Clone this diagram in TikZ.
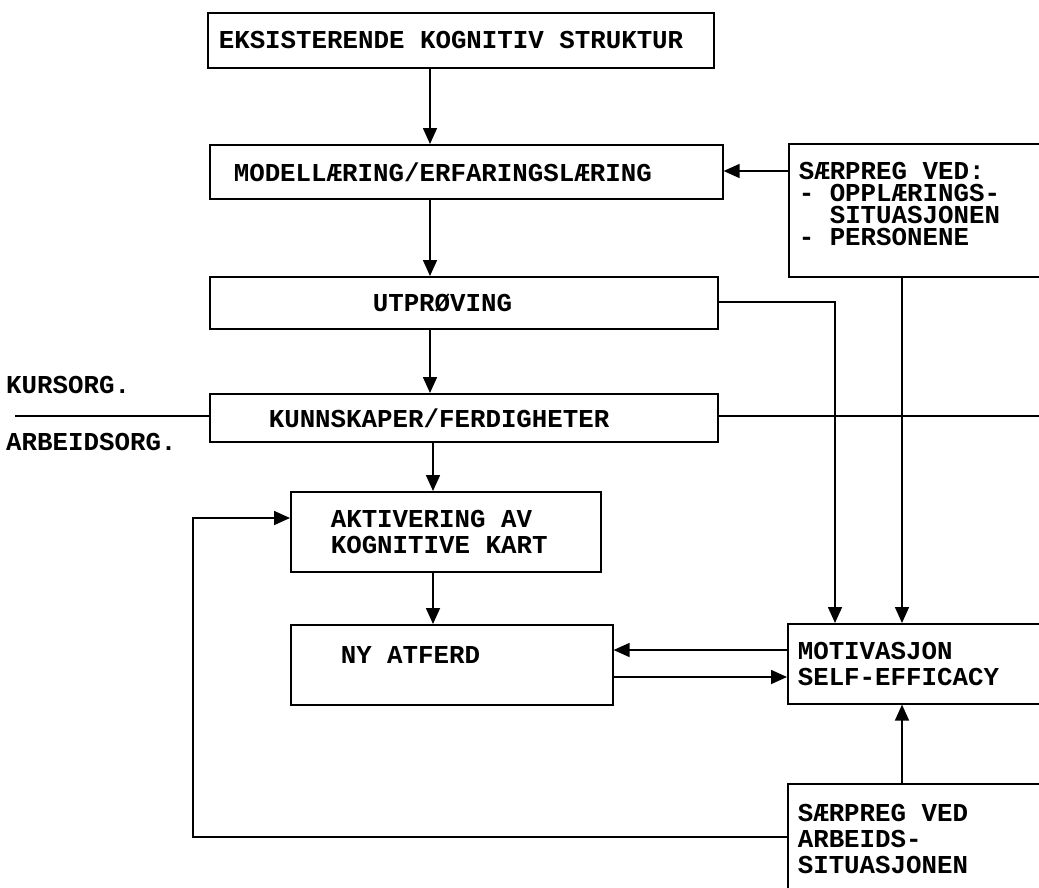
\documentclass[tikz,border=0pt]{standalone}
\usepackage{fontspec}
\newfontfamily\tw{Liberation Mono}
\usetikzlibrary{arrows.meta}
\begin{document}
\begin{tikzpicture}[x=1pt,y=-1pt,
  box/.style={draw, line width=1.6pt, anchor=north west, align=left,
    font=\tw\bfseries\fontsize{25.8}{26}\selectfont, inner ysep=0pt,
    execute at begin node={\spaceskip=0pt\xspaceskip=0pt}},
  tight/.style={font=\tw\bfseries\fontsize{25.8}{22}\selectfont},
  lbl/.style={inner sep=0pt, anchor=west, font=\tw\bfseries\fontsize{25.8}{26}\selectfont},
  arr/.style={line width=1.6pt, -{Triangle[length=16pt,width=14pt]}},
  ln/.style={line width=1.6pt}]
\useasboundingbox (0,0) rectangle (1039,887);
\clip (0,0) rectangle (1039,887);

% main column
\node[box, text width=484pt, inner xsep=11pt, minimum height=55pt] (b1) at (207,12)
  {EKSISTERENDE KOGNITIV STRUKTUR};
\node[box, text width=465pt, inner xsep=24pt, minimum height=54pt] (b2) at (209,144)
  {MODELLÆRING/ERFARINGSLÆRING};
\node[box, text width=182pt, inner xsep=163pt, minimum height=52pt] (b3) at (209,276)
  {UTPRØVING};
\node[box, text width=390pt, inner xsep=59pt, minimum height=48pt] (b4) at (209,393)
  {KUNNSKAPER/FERDIGHETER};
\node[box, text width=230pt, inner xsep=40pt, minimum height=80pt] (b5) at (290,491)
  {AKTIVERING AV\\KOGNITIVE KART};
\node[box, text width=222pt, inner xsep=50pt, minimum height=80pt, text depth=20pt] (b6) at (290,624)
  {NY ATFERD};

% right column (boxes run past the right edge)
\node[box, tight, text width=280pt, inner xsep=10pt, minimum height=133pt, text depth=78pt] (r1) at (788,143)
  {SÆRPREG VED:\\- OPPLÆRINGS-\\\ \ SITUASJONEN\\- PERSONENE};
\node[box, text width=280pt, inner xsep=10pt, minimum height=80pt] (m) at (787,623)
  {MOTIVASJON\\SELF-EFFICACY};
\node[box, text width=280pt, inner xsep=10pt, minimum height=110pt] (r2) at (787,783)
  {SÆRPREG VED\\ARBEIDS-\\SITUASJONEN};

% side labels
\node[lbl] (kurs) at (6,385) {KURSORG.};
\node[lbl] (arb) at (6,442) {ARBEIDSORG.};

% helper coordinates
\coordinate (xa) at (430,0);
\coordinate (xd) at (433,0);
\coordinate (xb) at (835,0);
\coordinate (xc) at (902,0);
\coordinate (xe) at (193,0);
\coordinate (ya) at (0,171);
\coordinate (yb) at (0,302);
\coordinate (yc) at (0,650);
\coordinate (yd) at (0,677);
\coordinate (ye) at (0,837);
\coordinate (yf) at (0,518);
\coordinate (lft) at (15,416);
\coordinate (rgt) at (1060,416);

% connectors
\draw[arr] (b1.south -| xa) -- (b2.north -| xa);
\draw[arr] (r1.west |- ya) -- (b2.east |- ya);
\draw[arr] (b2.south -| xa) -- (b3.north -| xa);
\draw[arr] (b3.south -| xa) -- (b4.north -| xa);
\draw[arr] (b4.south -| xd) -- (b5.north -| xd);
\draw[arr] (b5.south -| xd) -- (b6.north -| xd);
\draw[arr] (b3.east |- yb) -| (m.north -| xb);
\draw[arr] (r1.south -| xc) -- (m.north -| xc);
\draw[arr] (r2.north -| xc) -- (m.south -| xc);
\draw[arr] (m.west |- yc) -- (b6.east |- yc);
\draw[arr] (b6.east |- yd) -- (m.west |- yd);
\draw[arr] (r2.west |- ye) -| (xe |- yf) -- (b5.west |- yf);
\draw[ln] (lft) -- (b4.west |- lft);
\draw[ln] (b4.east |- lft) -- (rgt);
\end{tikzpicture}
\end{document}
